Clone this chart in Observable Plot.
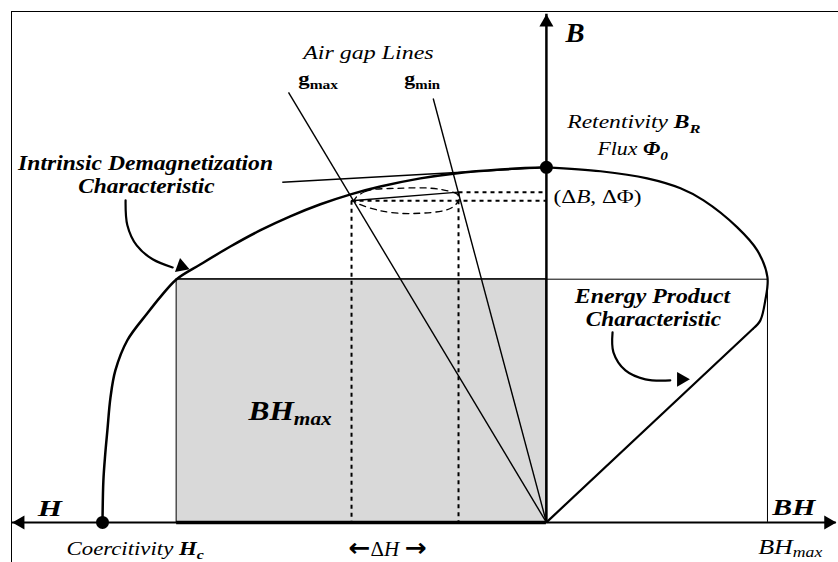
<!DOCTYPE html>
<html>
<head>
<meta charset="utf-8">
<script src="https://cdn.jsdelivr.net/npm/d3@7"></script>
<script src="https://cdn.jsdelivr.net/npm/@observablehq/plot@0.6"></script>
<style>
  html, body { margin: 0; padding: 0; background: #fff; }
  #chart svg { display: block; }
</style>
</head>
<body>
<div id="chart"></div>
<script>
// ---- Values (normalised units: coercivity Hc = -100, retentivity BR = 100) ----
const Hc = -100;
const BR = 100;
const BHmaxValue = 49.8;            // maximum of the energy product on the BH axis
const rectH = -83.3;                // H at the BHmax operating point
const rectB = 68.5;                 // B at the BHmax operating point

// intrinsic demagnetization characteristic (second quadrant)
const demagH = [-100, -99.8, -99.4, -98.9, -98.2, -97.1, -94.4, -89.9, -86.9, -83.3, -77.9, -71.2, -64.4, -57.7, -50.9, -44.1, -37.4, -28.4, -20.5, -10.4, 0];
const demagB = [0, 11.8, 19.0, 25.9, 35.2, 42.8, 51.3, 58.9, 63.6, 68.5, 72.7, 77.7, 82.3, 86.2, 89.6, 92.4, 94.6, 96.9, 98.3, 99.4, 100];

// energy product characteristic (first quadrant): curved part from BR to the knee
const energyH = [0, 12.2, 22.7, 30.2, 35.4, 43.0, 47.5, 49.8, 49.3, 48.2, 46.6];
const energyB = [100, 98.9, 96.9, 94.1, 90.7, 83.1, 76.6, 69.0, 62.5, 56.9, 54.6];

// air gap lines (end points away from origin)
const gapNames = ["gmax", "gmin"];
const gapH = [-58.1, -25.5];
const gapB = [121.1, 119.4];

// recoil (tangent) line start, ends at BR
const recoilH = -59.5;
const recoilB = 95.8;

// operating points on the two air-gap lines
const opH = [-43.9, -19.8];
const opB = [90.6, 93.0];

// dashed ellipse around the operating points
const ellipseH = [-43.2, -40.8, -33.6, -23.9, -19.6, -21.2, -30.0, -37.8];
const ellipseB = [90.7, 93.2, 94.1, 93.8, 91.8, 88.7, 87.0, 87.9];

// annotation arrows
const arrow1H = [-94.8, -94.4, -92.3, -88.7, -84.2];
const arrow1B = [90.7, 83.7, 78.0, 74.1, 71.8];
const arrow1Head = [-82.2, 72.1];
const arrow2H = [14.9, 15.1, 17.8, 22.3, 27.9];
const arrow2B = [53.5, 47.9, 42.8, 40.3, 40.0];
const arrow2Head = [30.4, 40.3];

// axes extents
const hAxisLeft = -120.3;
const hAxisRight = 65.3;
const bAxisTop = 143.1;

// labels
const labelText = ["Air gap Lines", "gmax", "gmin", "B", "Retentivity BR", "Flux Φ0", "(ΔB, ΔΦ)",
  "Intrinsic Demagnetization", "Characteristic", "Energy Product", "Characteristic",
  "BHmax", "H", "BH", "BHmax", "Coercitivity Hc", "←ΔH →"];
const labelH = [-40.1, -55.9, -32.0, 4.3, 4.7, 11.5, 1.6, -90.3, -90.1, 23.9, 24.1, -67.1, -114.6, 50.9, 47.7, -108.1, -35.8];
const labelB = [130.4, 123.1, 123.1, 135.2, 111.0, 103.4, 89.9, 99.2, 92.7, 61.7, 55.2, 28.7, 1.7, 2.0, -8.9, -9.3, -9.6];

// view extents
const Hrange = [-120.5, 65.8];
const Brange = [-11.3, 143.9];

// ---- Build tables ----
const zip = (hs, bs) => hs.map((h, i) => ({H: h, B: bs[i]}));
const demag = zip(demagH, demagB);
const energy = zip(energyH, energyB);
const knee = energy[energy.length - 1];
const gaps = gapNames.map((n, i) => ({name: n, H1: gapH[i], B1: gapB[i], H2: 0, B2: 0}));
const ellipse = zip(ellipseH, ellipseB);
const arrow1 = zip(arrow1H, arrow1B);
const arrow2 = zip(arrow2H, arrow2B);
const ops = zip(opH, opB);
const labels = labelText.map((t, i) => ({text: t, H: labelH[i], B: labelB[i]}));

const serif = "'Liberation Serif', 'Times New Roman', Times, serif";
const BI = {fontWeight: "bold", fontStyle: "italic"};
// per-label typography; sx = horizontal stretch of the glyphs
const textStyles = [
  {fontStyle: "italic", fontSize: 19, textAnchor: "middle", sx: 1.26},
  {fontWeight: "bold", fontSize: 19, textAnchor: "start", sx: 1.2},
  {fontWeight: "bold", fontSize: 19, textAnchor: "start", sx: 1.15},
  {...BI, fontSize: 28, textAnchor: "start", sx: 1.02},
  {fontStyle: "italic", fontSize: 19, textAnchor: "start", sx: 1.24},
  {fontStyle: "italic", fontSize: 19, textAnchor: "start", sx: 1.15},
  {fontSize: 19, textAnchor: "start", sx: 1.22},
  {...BI, fontSize: 20, textAnchor: "middle", sx: 1.18},
  {...BI, fontSize: 20, textAnchor: "middle", sx: 1.17},
  {...BI, fontSize: 20, textAnchor: "middle", sx: 1.19},
  {...BI, fontSize: 20, textAnchor: "middle", sx: 1.16},
  {...BI, fontSize: 28, textAnchor: "start", sx: 1.12},
  {...BI, fontSize: 24, textAnchor: "start", sx: 1.3},
  {...BI, fontSize: 24, textAnchor: "start", sx: 1.24},
  {fontStyle: "italic", fontSize: 20, textAnchor: "start", sx: 1.3},
  {fontStyle: "italic", fontSize: 19, textAnchor: "start", sx: 1.2},
  {fontSize: 20, textAnchor: "middle", sx: 1.05}
];

const textMarks = labels.map((d, i) => {
  const {sx, ...st} = textStyles[i];
  return Plot.text([d], {
    x: "H", y: "B", text: "text", fontFamily: serif, lineAnchor: "bottom", fill: "black",
    ariaDescription: "sx" + sx, ...st
  });
});

const chart = Plot.plot({
  width: 838,
  height: 562,
  marginLeft: 11, marginTop: 11, marginRight: 0, marginBottom: 0,
  style: {background: "white", fontFamily: serif},
  x: {domain: Hrange, axis: null},
  y: {domain: Brange, axis: null},
  marks: [
    Plot.frame({anchor: "top", stroke: "black", strokeWidth: 1}),
    Plot.frame({anchor: "left", stroke: "black", strokeWidth: 1}),
    // BHmax rectangle
    Plot.rect([{H1: rectH, H2: 0, B1: 0, B2: rectB}], {x1: "H1", x2: "H2", y1: "B1", y2: "B2", fill: "#d9d9d9", stroke: "black", strokeWidth: 1}),
    // BHmax level line and BHmax drop line
    Plot.ruleY([rectB], {x1: rectH, x2: BHmaxValue, stroke: "black", strokeWidth: 1}),
    Plot.ruleX([BHmaxValue], {y1: 0, y2: rectB, stroke: "black", strokeWidth: 1}),
    // dotted projection lines
    Plot.link(ops, {x1: "H", y1: "B", x2: 0, y2: "B", stroke: "black", strokeWidth: 2, strokeDasharray: "4,4"}),
    Plot.link(ops, {x1: "H", y1: "B", x2: "H", y2: 0, stroke: "black", strokeWidth: 2, strokeDasharray: "4,4"}),
    // dashed ellipse
    Plot.line(ellipse, {x: "H", y: "B", curve: "catmull-rom-closed", stroke: "black", strokeWidth: 1.3, strokeDasharray: "6,5"}),
    // chord between operating points
    Plot.line(ops, {x: "H", y: "B", stroke: "black", strokeWidth: 1.3}),
    // air gap lines
    Plot.link(gaps, {x1: "H1", y1: "B1", x2: "H2", y2: "B2", stroke: "black", strokeWidth: 1.4}),
    // recoil line
    Plot.link([{H1: recoilH, B1: recoilB, H2: 0, B2: BR}], {x1: "H1", y1: "B1", x2: "H2", y2: "B2", stroke: "black", strokeWidth: 1.5}),
    // axes
    Plot.ruleY([0], {x1: hAxisLeft, x2: hAxisRight, stroke: "black", strokeWidth: 2}),
    Plot.ruleY([0], {x1: rectH, x2: 0, stroke: "black", strokeWidth: 3.5}),
    Plot.ruleX([0], {y1: 0, y2: bAxisTop, stroke: "black", strokeWidth: 2.5}),
    Plot.dot([{H: hAxisLeft, B: 0}], {x: "H", y: "B", symbol: "triangle", r: 5.2, fill: "black", stroke: null, rotate: -90, dx: 8}),
    Plot.dot([{H: hAxisRight, B: 0}], {x: "H", y: "B", symbol: "triangle", r: 5.2, fill: "black", stroke: null, rotate: 90, dx: -8}),
    Plot.dot([{H: 0, B: bAxisTop}], {x: "H", y: "B", symbol: "triangle", r: 5.2, fill: "black", stroke: null, rotate: 0, dy: 8}),
    // characteristics
    Plot.line(demag, {x: "H", y: "B", curve: "catmull-rom", stroke: "black", strokeWidth: 2.5}),
    Plot.line(energy, {x: "H", y: "B", curve: "catmull-rom", stroke: "black", strokeWidth: 2.2}),
    Plot.link([{H1: knee.H, B1: knee.B, H2: 0, B2: 0}], {x1: "H1", y1: "B1", x2: "H2", y2: "B2", stroke: "black", strokeWidth: 2.2}),
    // annotation arrows
    Plot.line(arrow1, {x: "H", y: "B", curve: "catmull-rom", stroke: "black", strokeWidth: 2.2}),
    Plot.dot([{H: arrow1Head[0], B: arrow1Head[1]}], {x: "H", y: "B", symbol: "triangle", r: 5.5, fill: "black", stroke: null, rotate: 110}),
    Plot.line(arrow2, {x: "H", y: "B", curve: "catmull-rom", stroke: "black", strokeWidth: 2.2}),
    Plot.dot([{H: arrow2Head[0], B: arrow2Head[1]}], {x: "H", y: "B", symbol: "triangle", r: 5.5, fill: "black", stroke: null, rotate: 90}),
    // key points
    Plot.dot([{H: Hc, B: 0}, {H: 0, B: BR}], {x: "H", y: "B", r: 6.5, fill: "black", stroke: null}),
    ...textMarks
  ]
});

// rich text (subscripts / mixed styles), keeping everything as real text
const arrowFont = "'DejaVu Sans', sans-serif";
const rich = {
  "gmax": [["g"], ["max", {fs: 0.68, dy: 0.25}]],
  "gmin": [["g"], ["min", {fs: 0.68, dy: 0.25}]],
  "Retentivity BR": [["Retentivity "], ["B", {w: "bold"}], ["R", {w: "bold", fs: 0.7, dy: 0.35}]],
  "Flux Φ0": [["Flux "], ["Φ", {w: "bold"}], ["0", {w: "bold", fs: 0.7, dy: 0.35}]],
  "(ΔB, ΔΦ)": [["(Δ"], ["B", {s: "italic"}], [", ΔΦ)"]],
  "BHmax": [["BH"], ["max", {fs: 0.68, dy: 0.25}]],
  "Coercitivity Hc": [["Coercitivity "], ["H", {w: "bold"}], ["c", {w: "bold", fs: 0.7, dy: 0.3}]],
  "←ΔH →": [["←", {w: "bold", f: arrowFont, fs: 1.25}], ["Δ"], ["H", {s: "italic"}], [" "], ["→", {w: "bold", f: arrowFont, fs: 1.25}]]
};
const NS = "http://www.w3.org/2000/svg";
d3.select(chart).selectAll("text").each(function() {
  const g = this.closest("g[aria-description]");
  const parts = rich[this.textContent];
  if (parts) {
    this.textContent = "";
    for (const [t, o = {}] of parts) {
      const ts = document.createElementNS(NS, "tspan");
      ts.textContent = t;
      let st = "";
      if (o.w) st += `font-weight:${o.w};`;
      if (o.s) st += `font-style:${o.s};`;
      if (o.f) st += `font-family:${o.f};`;
      if (o.fs) st += `font-size:${o.fs}em;`;
      if (st) ts.setAttribute("style", st);
      if (o.dy) ts.setAttribute("dy", `${o.dy}em`);
      this.appendChild(ts);
    }
  }
  if (g) {
    const sx = parseFloat(g.getAttribute("aria-description").slice(2));
    if (sx && sx !== 1) {
      const tr = this.getAttribute("transform") || "";
      this.setAttribute("transform", `${tr} scale(${sx},1)`);
    }
  }
});

document.getElementById("chart").appendChild(chart);
</script>
</body>
</html>
